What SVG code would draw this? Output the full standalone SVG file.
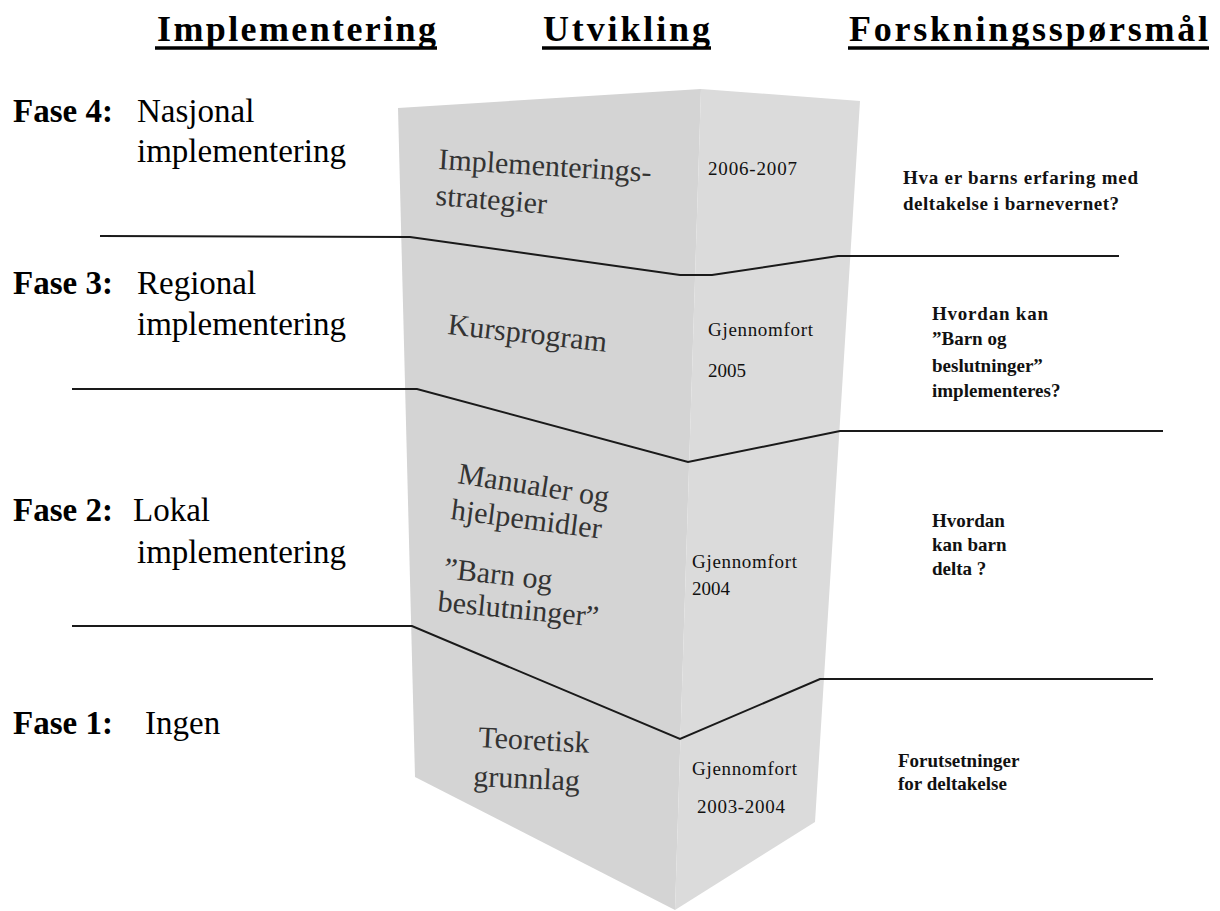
<svg xmlns="http://www.w3.org/2000/svg" width="1220" height="911" viewBox="0 0 1220 911">
<style>
.hdr{font-family:"Liberation Serif","Times New Roman",serif;font-weight:bold;font-size:36px;fill:#000}
.ul{stroke:#000;stroke-width:3.5}
.fb{font-family:"Liberation Serif","Times New Roman",serif;font-weight:bold;font-size:33px;fill:#000}
.fr{font-family:"Liberation Serif","Times New Roman",serif;font-size:33px;fill:#000}
.blk{font-family:"Liberation Serif","Times New Roman",serif;font-size:30px;fill:#333}
.sm{font-family:"Liberation Serif","Times New Roman",serif;font-size:19px;fill:#111}
.q{font-family:"Liberation Serif","Times New Roman",serif;font-weight:bold;font-size:19px;fill:#111}
.sep{fill:none;stroke:#1a1a1a;stroke-width:2;stroke-linejoin:miter}
</style>
<rect width="1220" height="911" fill="#ffffff"/>

<g id="headers">
  <text class="hdr" x="157" y="41" textLength="279">Implementering</text>
  <line class="ul" x1="155" y1="48" x2="437" y2="48"/>
  <text class="hdr" x="543" y="41" textLength="167">Utvikling</text>
  <line class="ul" x1="542" y1="48" x2="711" y2="48"/>
  <text class="hdr" x="849" y="41" textLength="359">Forskningsspørsmål</text>
  <line class="ul" x1="848" y1="48" x2="1209" y2="48"/>
</g>

<g id="block">
  <polygon points="398,108 701,89 675,910 415,777" fill="#d4d4d4"/>
  <polygon points="701,89 860,101 815,822 675,910" fill="#dbdbdb"/>
</g>

<g id="phase4">
  <text class="fb" x="13" y="122">Fase 4<tspan class="fr">:</tspan></text>
  <text class="fr" x="137" y="122">Nasjonal</text>
  <text class="fr" x="137" y="162">implementering</text>
</g>
<g id="phase3">
  <text class="fb" x="13" y="294">Fase 3<tspan class="fr">:</tspan></text>
  <text class="fr" x="137" y="294">Regional</text>
  <text class="fr" x="137" y="335">implementering</text>
</g>
<g id="phase2">
  <text class="fb" x="13" y="521">Fase 2<tspan class="fr">:</tspan></text>
  <text class="fr" x="133" y="521">Lokal</text>
  <text class="fr" x="137" y="563">implementering</text>
</g>
<g id="phase1">
  <text class="fb" x="13" y="734">Fase 1<tspan class="fr">:</tspan></text>
  <text class="fr" x="145" y="734">Ingen</text>
</g>

<g id="dev4">
  <text class="blk" transform="rotate(3.5 438 169)" x="438" y="169">Implementerings-</text>
  <text class="blk" transform="rotate(4.5 435 205)" x="435" y="205">strategier</text>
  <text class="sm" x="708" y="175" textLength="89">2006-2007</text>
</g>
<g id="dev3">
  <text class="blk" transform="rotate(6.4 447 334)" x="447" y="334">Kursprogram</text>
  <text class="sm" x="708" y="336" textLength="105">Gjennomfort</text>
  <text class="sm" x="708" y="377">2005</text>
</g>
<g id="dev2">
  <text class="blk" transform="rotate(9 457 483)" x="457" y="483">Manualer og</text>
  <text class="blk" transform="rotate(7.4 450 519)" x="450" y="519">hjelpemidler</text>
  <text class="blk" transform="rotate(6.3 443 578)" x="443" y="578">”Barn og</text>
  <text class="blk" transform="rotate(5.6 437 611)" x="437" y="611">beslutninger”</text>
  <text class="sm" x="692" y="568" textLength="105">Gjennomfort</text>
  <text class="sm" x="692" y="595">2004</text>
</g>
<g id="dev1">
  <text class="blk" transform="rotate(3 478 747)" x="478" y="747">Teoretisk</text>
  <text class="blk" transform="rotate(2.5 473 786)" x="473" y="786">grunnlag</text>
  <text class="sm" x="692" y="775" textLength="105">Gjennomfort</text>
  <text class="sm" x="697" y="813" textLength="88">2003-2004</text>
</g>

<g id="research">
  <text class="q" x="903" y="184" textLength="235">Hva er barns erfaring med</text>
  <text class="q" x="903" y="210" textLength="216">deltakelse i barnevernet?</text>
  <text class="q" x="932" y="320" textLength="116">Hvordan kan</text>
  <text class="q" x="932" y="345">”Barn og</text>
  <text class="q" x="932" y="372">beslutninger”</text>
  <text class="q" x="932" y="397">implementeres?</text>
  <text class="q" x="932" y="527">Hvordan</text>
  <text class="q" x="932" y="551">kan barn</text>
  <text class="q" x="932" y="575">delta ?</text>
  <text class="q" x="898" y="767">Forutsetninger</text>
  <text class="q" x="898" y="790">for deltakelse</text>
</g>

<g id="separators">
  <polyline class="sep" points="100,236 410,237 680,275 712,275 838,256 1119,256"/>
  <polyline class="sep" points="72,389 417,389 688,462 840,431 1163,431"/>
  <polyline class="sep" points="72,626 412,626 680,739 820,679 1153,679"/>
</g>
</svg>
